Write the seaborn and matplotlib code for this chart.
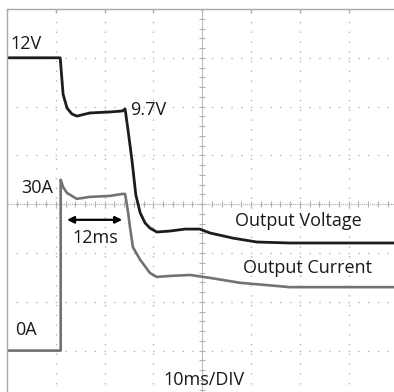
import numpy as np
import pandas as pd
import matplotlib
matplotlib.use("Agg")
import matplotlib.pyplot as plt
import seaborn as sns

# time in ms (10 ms/DIV), voltage in V (2 V/DIV), current in A (10 A/DIV)
v_time = [0, 10.9, 11.1, 11.5, 12.3, 13.3, 14.3, 17.0, 21.1, 23.6, 24.2, 24.8, 25.6,
          26.4, 27.3, 28.3, 29.3, 30.7, 33.4, 36.5, 39.5, 41.6, 46.3, 51.2, 58.0, 80.0]
voltage = [12.0, 12.0, 11.5, 10.5, 9.94, 9.70, 9.61, 9.74, 9.78, 9.82, 9.90, 9.04, 7.81,
           6.38, 5.64, 5.23, 5.02, 4.86, 4.90, 4.98, 4.98, 4.82, 4.61, 4.45, 4.41, 4.41]

i_time = [0, 11.0, 11.0, 11.5, 12.3, 14.3, 17.0, 21.1, 23.6, 24.2, 24.8, 25.2, 25.8,
          27.3, 29.3, 30.7, 33.4, 37.5, 41.6, 47.7, 58.0, 80.0]
current = [0.0, 0.0, 35.0, 33.5, 32.3, 31.1, 31.5, 31.7, 32.1, 32.1, 28.4, 25.3, 21.2,
           18.6, 15.9, 15.1, 15.3, 15.5, 14.9, 13.9, 13.0, 13.0]

V_REF, V_DIV, V_POS = 12.0, 2.0, 7.0
I_DIV, I_POS = 10.0, 1.0

df_v = pd.DataFrame({"t": v_time, "div": [V_POS + (v - V_REF) / V_DIV for v in voltage]})
df_i = pd.DataFrame({"t": i_time, "div": [I_POS + a / I_DIV for a in current]})

sns.set_style("white")
plt.rcParams["font.family"] = ["Open Sans", "DejaVu Sans"]
plt.rcParams["lines.scale_dashes"] = False

fig = plt.figure(figsize=(3.94, 3.92), dpi=100)
ax = fig.add_axes([7 / 394, (392 - 399.4) / 392, 390.4 / 394, 390.4 / 392])
ax.set_xlim(0, 80)
ax.set_ylim(0, 8)
ax.set_xticks([])
ax.set_yticks([])
for s in ["right", "bottom"]:
    ax.spines[s].set_visible(False)
for s in ["left", "top"]:
    ax.spines[s].set_color("#a8a8a8")
    ax.spines[s].set_linewidth(1.0)

grid_c = "#b4b4b4"
dots = (0.5, (1.0, 6.03))
for x in [10, 20, 30, 50, 60, 70]:
    ax.axvline(x, color=grid_c, lw=1.0, ls=dots, zorder=0)
for y in [1, 2, 3, 5, 6, 7]:
    ax.axhline(y, color=grid_c, lw=1.0, ls=dots, zorder=0)
# centre graticule
ax.axvline(40, color="#b8b8b8", lw=0.7, zorder=0)
ax.axhline(4, color="#b0b0b0", lw=0.9, ls=(0, (0.8, 0.7)), zorder=0)
minor_y = np.arange(0, 8.01, 0.2)
minor_x = np.arange(0, 80.1, 2)
ax.plot([40] * len(minor_y), minor_y, ls="none", marker="_", ms=4, mew=0.8, color="#b0b0b0", zorder=0)
ax.plot(minor_x, [4] * len(minor_x), ls="none", marker="|", ms=4, mew=0.8, color="#b0b0b0", zorder=0)
ax.plot(np.arange(0, 81, 10), [8] * 9, ls="none", marker="|", ms=5, mew=1, color="#a8a8a8", zorder=0)

sns.lineplot(data=df_i, x="t", y="div", ax=ax, color="#727272", lw=1.9,
             sort=False, estimator=None)
sns.lineplot(data=df_v, x="t", y="div", ax=ax, color="#1c1c1c", lw=2.0,
             sort=False, estimator=None)
ax.set_xlabel("")
ax.set_ylabel("")

fs = 13
kw = dict(fontsize=fs, color="#1a1a1a", va="baseline", ha="left")
ax.text(0.6, 7.18, "12V", **kw)
ax.text(25.2, 5.83, "9.7V", **kw)
ax.text(2.9, 4.23, "30A", **kw)
ax.text(1.6, 1.32, "0A", **kw)
ax.text(13.5, 3.2, "12ms", **kw)
ax.text(32.0, 0.30, "10ms/DIV", **kw)
ax.text(46.7, 3.55, "Output Voltage", **kw)
ax.text(48.4, 2.59, "Output Current", **kw)
ax.annotate("", xy=(12.3, 3.68), xytext=(23.6, 3.68),
            arrowprops=dict(arrowstyle="<|-|>", color="black", lw=1.6,
                            mutation_scale=10, shrinkA=0, shrinkB=0))

fig.savefig("out.png", dpi=100)
